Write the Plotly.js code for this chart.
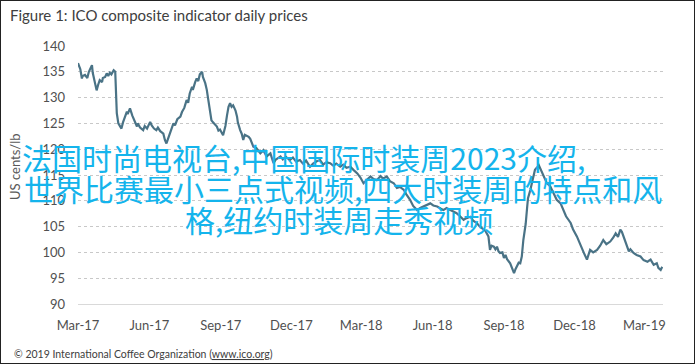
<!DOCTYPE html>
<html>
<head>
<meta charset="utf-8">
<script src="https://cdn.plot.ly/plotly-3.0.1.min.js"></script>
<style>
html,body{margin:0;padding:0;background:#fff;}
#frame{position:absolute;left:0;top:0;width:695px;height:364px;box-sizing:border-box;border:1px solid #222;}
#chart{position:absolute;left:0;top:0;width:695px;height:364px;}
</style>
</head>
<body>
<div id="chart"></div>
<div id="frame"></div>
<script>
const dates = [
'2017-03-01','2017-03-04','2017-03-06','2017-03-07','2017-03-10','2017-03-13','2017-03-15','2017-03-19','2017-03-20','2017-03-23',
'2017-03-25','2017-03-27','2017-03-29','2017-04-01','2017-04-02','2017-04-05','2017-04-07','2017-04-09','2017-04-11','2017-04-13',
'2017-04-16','2017-04-18','2017-04-19','2017-04-20','2017-04-22','2017-04-24','2017-04-26','2017-04-28','2017-05-01','2017-05-03',
'2017-05-04','2017-05-07','2017-05-10','2017-05-12','2017-05-16','2017-05-17','2017-05-20','2017-05-24','2017-05-26','2017-05-29',
'2017-06-02','2017-06-04','2017-06-07','2017-06-10','2017-06-12','2017-06-15','2017-06-19','2017-06-21','2017-06-23','2017-06-25',
'2017-06-28','2017-07-02','2017-07-04','2017-07-07','2017-07-11','2017-07-13','2017-07-16','2017-07-19','2017-07-21','2017-07-23',
'2017-07-26','2017-07-27','2017-07-30','2017-08-01','2017-08-03','2017-08-05','2017-08-08','2017-08-09','2017-08-12','2017-08-14',
'2017-08-16','2017-08-18','2017-08-20','2017-08-22','2017-08-25','2017-08-27','2017-08-29','2017-08-31','2017-09-04','2017-09-07',
'2017-09-09','2017-09-11','2017-09-13','2017-09-15','2017-09-17','2017-09-20','2017-09-22','2017-09-23','2017-09-26','2017-09-28',
'2017-09-30','2017-10-02','2017-10-07','2017-10-09','2017-10-13','2017-10-17','2017-10-22','2017-10-26','2017-10-30','2017-11-04',
'2017-11-08','2017-11-11','2017-11-17','2017-11-20','2017-11-24','2017-11-29','2017-12-03','2017-12-07','2017-12-12','2017-12-16',
'2017-12-20','2017-12-25','2017-12-29','2018-01-02','2018-01-07','2018-01-11','2018-01-15','2018-01-20','2018-01-24','2018-01-28',
'2018-02-02','2018-02-06','2018-02-10','2018-02-15','2018-02-19','2018-02-24','2018-02-28','2018-03-04','2018-03-08','2018-03-13',
'2018-03-17','2018-03-21','2018-03-26','2018-03-29','2018-04-03','2018-04-07','2018-04-12','2018-04-16','2018-04-20','2018-04-25',
'2018-04-28','2018-05-03','2018-05-07','2018-05-12','2018-05-16','2018-05-20','2018-05-24','2018-05-29','2018-06-02','2018-06-07',
'2018-06-11','2018-06-15','2018-06-19','2018-06-24','2018-06-28','2018-07-02','2018-07-07','2018-07-11','2018-07-14','2018-07-20',
'2018-07-23','2018-07-28','2018-08-01','2018-08-06','2018-08-08','2018-08-12','2018-08-14','2018-08-16','2018-08-19','2018-08-21',
'2018-08-23','2018-08-25','2018-08-27','2018-08-30','2018-09-01','2018-09-03','2018-09-05','2018-09-09','2018-09-11','2018-09-14',
'2018-09-16','2018-09-18','2018-09-20','2018-09-22','2018-09-24','2018-09-26','2018-09-29','2018-10-01','2018-10-02','2018-10-05',
'2018-10-08','2018-10-11','2018-10-16','2018-10-18','2018-10-22','2018-10-26','2018-10-31','2018-11-04','2018-11-08','2018-11-13',
'2018-11-17','2018-11-20','2018-11-26','2018-11-29','2018-12-04','2018-12-08','2018-12-13','2018-12-17','2018-12-19','2018-12-21',
'2018-12-25','2018-12-30','2019-01-03','2019-01-07','2019-01-11','2019-01-16','2019-01-20','2019-01-23','2019-01-26','2019-01-29',
'2019-01-31','2019-02-02','2019-02-06','2019-02-09','2019-02-11','2019-02-15','2019-02-19','2019-02-24','2019-02-28','2019-03-05',
'2019-03-09','2019-03-13','2019-03-17','2019-03-19','2019-03-22','2019-03-24'
];
const prices = [
136.7,135.5,133.7,134.2,134.4,133.8,135.0,136.3,134.8,133.0,
131.4,132.5,133.4,133.0,133.8,134.0,134.7,134.2,134.8,134.5,
135.3,135.0,130.0,127.0,125.0,124.5,124.0,125.2,126.5,127.3,
126.8,127.9,126.5,125.8,124.4,125.0,124.2,123.7,124.5,124.0,
125.3,124.6,124.0,123.7,124.2,123.5,123.0,121.8,121.1,122.0,
123.5,125.0,124.6,125.8,126.3,127.2,128.0,129.5,129.0,130.8,
132.1,131.5,133.0,133.7,133.2,134.5,135.0,134.0,132.8,131.5,
129.5,127.5,125.6,125.2,124.8,124.4,123.6,123.8,122.7,124.5,
126.5,128.2,128.9,128.2,128.5,127.5,126.3,125.2,123.7,123.0,
121.8,122.8,122.4,122.0,120.5,120.2,119.2,119.8,118.6,119.2,
117.3,118.0,118.6,118.0,118.5,117.9,118.4,117.6,117.9,117.2,
117.8,116.6,117.2,117.6,117.9,117.0,117.5,117.3,116.8,117.2,
116.6,117.0,116.4,116.6,116.0,115.3,114.5,113.4,114.0,114.7,
114.2,114.0,114.8,114.3,114.7,113.8,113.4,112.5,112.7,112.1,
111.3,110.2,109.0,108.2,108.6,108.9,109.2,109.5,109.1,108.9,
108.5,108.2,108.6,108.2,107.8,107.6,106.9,106.3,106.6,106.9,
106.2,105.7,105.0,104.4,104.2,103.1,100.5,101.3,101.1,100.6,
101.1,100.2,99.9,100.0,98.9,99.5,98.7,97.9,97.0,96.0,
96.8,97.3,98.0,97.9,99.2,102.4,105.5,108.9,110.5,112.1,
113.8,116.0,116.9,116.2,114.7,113.5,112.7,111.5,110.2,109.5,
108.2,107.0,105.7,104.5,103.1,101.5,99.9,98.6,99.5,100.5,
100.0,100.5,101.3,102.4,101.6,102.1,102.9,103.7,103.0,104.4,
104.0,103.1,101.6,100.2,100.6,99.9,99.5,99.2,98.5,98.2,
98.6,97.6,97.9,97.0,96.6,97.2
];
const tickDates = ['2017-03-01','2017-06-01','2017-09-01','2017-12-01','2018-03-01','2018-06-01','2018-09-01','2018-12-01','2019-03-01'];
const tickLabels = ['Mar-17','Jun-17','Sep-17','Dec-17','Mar-18','Jun-18','Sep-18','Dec-18','Mar-19'];
const yTicks = [90,95,100,105,110,115,120,125,130,135,140];
const titleText = 'Figure 1: ICO composite indicator daily prices';
const yTitle = 'US cents/lb';
const footerText = '© 2019 International Coffee Organization (<span style="text-decoration:underline">www.ico.org</span>)';
const overlayLines = ['法国时尚电视台,中国国际时装周2023介绍,','世界比赛最小三点式视频,四大时装周的特点和风','格,纽约时装周走秀视频'];

const W = 695, H = 364;
const m = {l:78, r:32, t:46, b:60};
const pw = W - m.l - m.r, ph = H - m.t - m.b;
const px = x => (x - m.l) / pw;
const py = y => (H - m.b - y) / ph;

const baseFont = 'Lato, "Liberation Sans", sans-serif';
const cjkFont = '"Noto Sans CJK SC", sans-serif';
const overlayColor = '#14b4ec';

const annotations = [
  {text: titleText, xref:'paper', yref:'paper', x: px(8), y: py(15), xanchor:'left', yanchor:'middle', showarrow:false,
   font:{family: baseFont, size:15, color:'#404040'}},
  {text: yTitle, xref:'paper', yref:'paper', x: px(15), y: py(167), xanchor:'center', yanchor:'middle', showarrow:false, textangle:-90,
   font:{family: baseFont, size:13, color:'#595959'}},
  {text: footerText, xref:'paper', yref:'paper', x: px(12), y: py(354), xanchor:'left', yanchor:'middle', showarrow:false,
   font:{family: baseFont, size:10.5, color:'#404040'}},
  {text: overlayLines[0], xref:'paper', yref:'paper', x: px(20), y: py(157), xanchor:'left', yanchor:'middle', showarrow:false,
   font:{family: cjkFont, size:30, color: overlayColor}},
  {text: overlayLines[1], xref:'paper', yref:'paper', x: px(22), y: py(188), xanchor:'left', yanchor:'middle', showarrow:false,
   font:{family: cjkFont, size:30, color: overlayColor}},
  {text: overlayLines[2], xref:'paper', yref:'paper', x: px(183), y: py(219), xanchor:'left', yanchor:'middle', showarrow:false,
   font:{family: cjkFont, size:30, color: overlayColor}}
];

const trace = {
  x: dates, y: prices, type:'scatter', mode:'lines',
  line:{color:'#4a7386', width:2.2},
  hoverinfo:'skip'
};

const layout = {
  width: W, height: H,
  margin: m,
  paper_bgcolor:'#fff', plot_bgcolor:'#fff',
  showlegend:false,
  xaxis:{
    type:'date', range:['2017-03-01','2019-03-25'],
    tickmode:'array', tickvals: tickDates, ticktext: tickLabels,
    showgrid:false, zeroline:false, ticks:'',
    showline:true, linecolor:'#d9d9d9', linewidth:1,
    tickfont:{family: baseFont, size:13, color:'#505050'},
    ticklabelstandoff: 9
  },
  yaxis:{
    range:[90,140], tickmode:'array', tickvals: yTicks, ticktext: yTicks.map(String),
    showgrid:true, gridcolor:'#c8c8c8', griddash:'dot', gridwidth:1,
    zeroline:false, ticks:'', showline:false,
    tickfont:{family: baseFont, size:13, color:'#505050'},
    ticklabelstandoff: 12
  },
  annotations: annotations
};

Plotly.newPlot('chart', [trace], layout, {staticPlot:true, displayModeBar:false});
</script>
</body>
</html>
